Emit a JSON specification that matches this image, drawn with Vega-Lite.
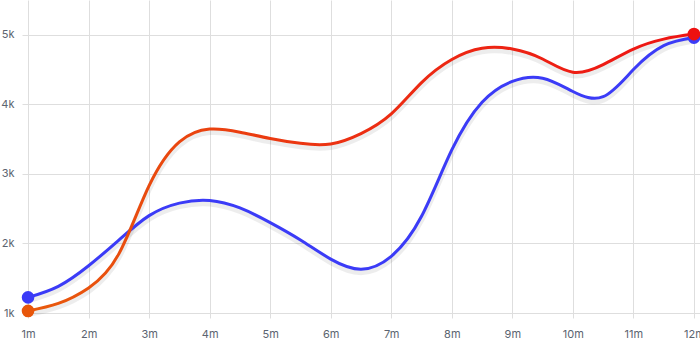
{
  "$schema": "https://vega.github.io/schema/vega-lite/v6.json",
  "width": 678,
  "height": 313,
  "autosize": {"type": "none"},
  "padding": {"left": 22, "top": 0, "right": 0, "bottom": 48},
  "background": "#ffffff",
  "config": {
    "view": {"stroke": null},
    "font": "Inter",
    "axis": {
      "domain": false,
      "gridColor": "#dedede",
      "gridWidth": 1,
      "labelColor": "#5b6470",
      "labelFont": "Inter",
      "labelFontSize": 11,
      "title": null
    }
  },
  "data": {
    "values": [
      {"month": 1, "series": "A", "value": 1225},
      {"month": 1.5, "series": "A", "value": 1384},
      {"month": 2, "series": "A", "value": 1680},
      {"month": 2.5, "series": "A", "value": 2048},
      {"month": 3, "series": "A", "value": 2400},
      {"month": 3.5, "series": "A", "value": 2580},
      {"month": 4, "series": "A", "value": 2618},
      {"month": 4.5, "series": "A", "value": 2510},
      {"month": 5, "series": "A", "value": 2300},
      {"month": 5.5, "series": "A", "value": 2050},
      {"month": 6, "series": "A", "value": 1775},
      {"month": 6.5, "series": "A", "value": 1630},
      {"month": 7, "series": "A", "value": 1815},
      {"month": 7.5, "series": "A", "value": 2390},
      {"month": 8, "series": "A", "value": 3344},
      {"month": 8.5, "series": "A", "value": 4030},
      {"month": 9, "series": "A", "value": 4330},
      {"month": 9.5, "series": "A", "value": 4375},
      {"month": 10, "series": "A", "value": 4185},
      {"month": 10.5, "series": "A", "value": 4110},
      {"month": 11, "series": "A", "value": 4500},
      {"month": 11.5, "series": "A", "value": 4843},
      {"month": 12, "series": "A", "value": 4960},
      {"month": 1, "series": "B", "value": 1030},
      {"month": 1.5, "series": "B", "value": 1138},
      {"month": 2, "series": "B", "value": 1360},
      {"month": 2.5, "series": "B", "value": 1850},
      {"month": 3, "series": "B", "value": 2830},
      {"month": 3.5, "series": "B", "value": 3460},
      {"month": 4, "series": "B", "value": 3645},
      {"month": 4.5, "series": "B", "value": 3600},
      {"month": 5, "series": "B", "value": 3510},
      {"month": 5.5, "series": "B", "value": 3439},
      {"month": 6, "series": "B", "value": 3430},
      {"month": 6.5, "series": "B", "value": 3580},
      {"month": 7, "series": "B", "value": 3863},
      {"month": 7.5, "series": "B", "value": 4313},
      {"month": 8, "series": "B", "value": 4645},
      {"month": 8.5, "series": "B", "value": 4806},
      {"month": 9, "series": "B", "value": 4795},
      {"month": 9.5, "series": "B", "value": 4652},
      {"month": 10, "series": "B", "value": 4462},
      {"month": 10.5, "series": "B", "value": 4571},
      {"month": 11, "series": "B", "value": 4795},
      {"month": 11.5, "series": "B", "value": 4938},
      {"month": 12, "series": "B", "value": 5010}
    ]
  },
  "encoding": {
    "x": {
      "field": "month",
      "type": "quantitative",
      "scale": {"domain": [0.9, 12.1], "nice": false, "zero": false},
      "axis": {
        "values": [1, 2, 3, 4, 5, 6, 7, 8, 9, 10, 11, 12],
        "labelExpr": "datum.value + 'm'",
        "grid": true,
        "ticks": true,
        "tickSize": 5,
        "tickColor": "#dedede",
        "labelPadding": 10,
        "labelFlush": false
      }
    },
    "y": {
      "field": "value",
      "type": "quantitative",
      "scale": {"domain": [1000, 5500], "nice": false, "zero": false},
      "axis": {
        "values": [1000, 2000, 3000, 4000, 5000],
        "labelExpr": "(datum.value / 1000) + 'k'",
        "grid": true,
        "ticks": false,
        "labelPadding": 8
      }
    }
  },
  "layer": [
    {
      "transform": [{"filter": "datum.series == 'A'"}],
      "mark": {"type": "line", "interpolate": "natural", "stroke": "#000000", "strokeOpacity": 0.07, "strokeWidth": 6, "yOffset": 3}
    },
    {
      "transform": [{"filter": "datum.series == 'B'"}],
      "mark": {"type": "line", "interpolate": "natural", "stroke": "#000000", "strokeOpacity": 0.07, "strokeWidth": 6, "yOffset": 3}
    },
    {
      "transform": [{"filter": "datum.series == 'A'"}],
      "mark": {"type": "line", "interpolate": "natural", "stroke": "#3b3bf7", "strokeWidth": 3}
    },
    {
      "transform": [{"filter": "datum.series == 'B'"}],
      "mark": {
        "type": "line",
        "interpolate": "natural",
        "strokeWidth": 3,
        "stroke": {
          "gradient": "linear",
          "x1": 0, "y1": 0, "x2": 1, "y2": 0,
          "stops": [
            {"offset": 0, "color": "#e85a0c"},
            {"offset": 0.5, "color": "#ec2e12"},
            {"offset": 1, "color": "#ee1414"}
          ]
        }
      }
    },
    {
      "transform": [{"filter": "datum.series == 'A' && (datum.month == 1 || datum.month == 12)"}],
      "mark": {"type": "point", "filled": true, "opacity": 1, "size": 160, "color": "#3b3bf7"}
    },
    {
      "transform": [{"filter": "datum.series == 'B' && datum.month == 1"}],
      "mark": {"type": "point", "filled": true, "opacity": 1, "size": 160, "color": "#e8560a"}
    },
    {
      "transform": [{"filter": "datum.series == 'B' && datum.month == 12"}],
      "mark": {"type": "point", "filled": true, "opacity": 1, "size": 160, "color": "#ee1111"}
    }
  ]
}
